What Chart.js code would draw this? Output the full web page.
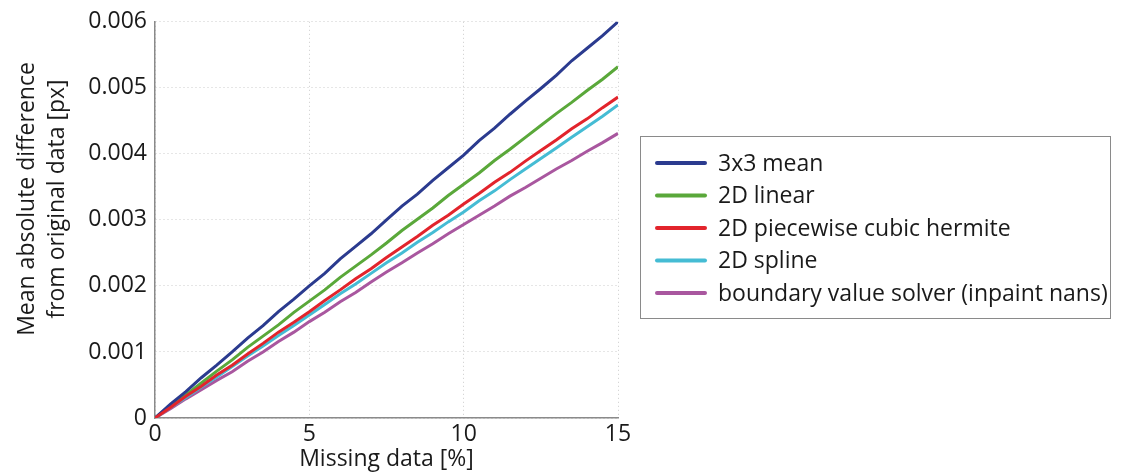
<!DOCTYPE html>
<html>
<head>
<meta charset="utf-8">
<script src="https://cdn.jsdelivr.net/npm/chart.js@4/dist/chart.umd.min.js"></script>
<style>
  html, body { margin: 0; padding: 0; background: #fff; }
  #wrap { width: 1123px; height: 475px; }
</style>
</head>
<body>
<div id="wrap"><canvas id="missing-chart" width="1123" height="475"></canvas></div>
<script>
const missingPct = [0, 0.5, 1, 1.5, 2, 2.5, 3, 3.5, 4, 4.5, 5, 5.5, 6, 6.5, 7, 7.5, 8, 8.5, 9, 9.5, 10, 10.5, 11, 11.5, 12, 12.5, 13, 13.5, 14, 14.5, 15];

const mean3x3 = [0, 0.00021, 0.00040, 0.00061, 0.00080, 0.00100, 0.00121, 0.00140, 0.00161, 0.00180, 0.00200, 0.00219, 0.00241, 0.00260, 0.00279, 0.00300, 0.00321, 0.00339, 0.00360, 0.00379, 0.00398, 0.00420, 0.00439, 0.00460, 0.00480, 0.00499, 0.00519, 0.00541, 0.00560, 0.00579, 0.00600];
const linear2d = [0, 0.00018, 0.00035, 0.00053, 0.00071, 0.00088, 0.00107, 0.00124, 0.00141, 0.00160, 0.00177, 0.00194, 0.00213, 0.00230, 0.00247, 0.00265, 0.00284, 0.00301, 0.00318, 0.00337, 0.00354, 0.00371, 0.00390, 0.00407, 0.00425, 0.00443, 0.00461, 0.00478, 0.00496, 0.00513, 0.00532];
const hermite2d = [0, 0.00016, 0.00033, 0.00048, 0.00065, 0.00080, 0.00097, 0.00113, 0.00130, 0.00145, 0.00161, 0.00178, 0.00194, 0.00211, 0.00226, 0.00243, 0.00259, 0.00275, 0.00292, 0.00307, 0.00324, 0.00340, 0.00357, 0.00372, 0.00389, 0.00405, 0.00421, 0.00438, 0.00453, 0.00470, 0.00486];
const spline2d = [0, 0.00016, 0.00031, 0.00047, 0.00062, 0.00078, 0.00094, 0.00109, 0.00125, 0.00140, 0.00156, 0.00172, 0.00188, 0.00203, 0.00219, 0.00235, 0.00250, 0.00266, 0.00281, 0.00297, 0.00312, 0.00329, 0.00344, 0.00361, 0.00377, 0.00393, 0.00409, 0.00425, 0.00441, 0.00457, 0.00474];
const inpaintNans = [0, 0.00014, 0.00029, 0.00043, 0.00057, 0.00070, 0.00086, 0.00100, 0.00116, 0.00130, 0.00146, 0.00160, 0.00176, 0.00190, 0.00206, 0.00221, 0.00235, 0.00250, 0.00264, 0.00279, 0.00293, 0.00307, 0.00321, 0.00336, 0.00349, 0.00363, 0.00377, 0.00390, 0.00404, 0.00417, 0.00431];

const seriesNames = ['3x3 mean', '2D linear', '2D piecewise cubic hermite', '2D spline', 'boundary value solver (inpaint nans)'];
const seriesValues = [mean3x3, linear2d, hermite2d, spline2d, inpaintNans];
const seriesColors = ['#2b3b8f', '#5aa83a', '#e2242c', '#45bcd4', '#a9579f'];
const seriesOrder = [2, 3, 0, 4, 5];

const xTicks = [0, 5, 10, 15];
const yTicks = [0, 0.001, 0.002, 0.003, 0.004, 0.005, 0.006];
const yTitle = ['Mean absolute difference', 'from original data [px]'];

const FONT = "'Open Sans', 'Noto Sans', sans-serif";

function toPoints(values) {
  return values.map((v, i) => ({ x: missingPct[i], y: v }));
}

// y title sits a bit above the plot centre, so it is drawn by hand
const sideTitle = {
  id: 'sideTitle',
  afterDraw(chart) {
    const ctx = chart.ctx;
    ctx.save();
    ctx.translate(0, 199);
    ctx.rotate(-Math.PI / 2);
    ctx.font = '23px ' + FONT;
    ctx.fillStyle = '#1a1a1a';
    ctx.textAlign = 'center';
    ctx.textBaseline = 'middle';
    yTitle.forEach((line, i) => ctx.fillText(line, 0, 27 + i * 30));
    ctx.restore();
  }
};

// legend drawn in its own box to the right of the plot
const boxLegend = {
  id: 'boxLegend',
  afterDraw(chart) {
    const ctx = chart.ctx;
    const box = { left: 640, top: 136, right: 1110, bottom: 318 };
    ctx.save();
    ctx.strokeStyle = '#8a8a8a';
    ctx.lineWidth = 1;
    ctx.strokeRect(box.left + 0.5, box.top + 0.5, box.right - box.left, box.bottom - box.top);
    ctx.font = '23px ' + FONT;
    ctx.textBaseline = 'middle';
    ctx.lineCap = 'round';
    chart.data.datasets.forEach((ds, i) => {
      const y = 163 + i * 32.5;
      ctx.strokeStyle = ds.borderColor;
      ctx.lineWidth = 4;
      ctx.beginPath();
      ctx.moveTo(657, y);
      ctx.lineTo(705, y);
      ctx.stroke();
      ctx.fillStyle = '#1a1a1a';
      ctx.fillText(ds.label, 718, y + 1);
    });
    ctx.restore();
  }
};

const ctx = document.getElementById('missing-chart').getContext('2d');
window.myChart = new Chart(ctx, {
  type: 'line',
  data: {
    datasets: seriesNames.map((name, i) => ({
      label: name,
      data: toPoints(seriesValues[i]),
      borderColor: seriesColors[i],
      backgroundColor: seriesColors[i],
      borderWidth: 3,
      pointRadius: 0,
      tension: 0,
      order: seriesOrder[i]
    }))
  },
  options: {
    responsive: false,
    animation: false,
    layout: {
      padding: { left: 0, top: 19, right: 505, bottom: 0 }
    },
    scales: {
      x: {
        type: 'linear',
        min: 0,
        max: 15,
        afterBuildTicks: axis => { axis.ticks = xTicks.map(v => ({ value: v })); },
        afterFit: axis => { axis.height = 57; },
        grid: { color: '#cccccc', lineWidth: 1, drawTicks: false },
        border: { color: '#8a8a8a', width: 1.5, dash: [1, 3] },
        ticks: {
          color: '#1a1a1a',
          padding: 3,
          maxRotation: 0,
          font: { family: FONT, size: 23 }
        },
        title: {
          display: true,
          text: 'Missing data [%]',
          color: '#1a1a1a',
          padding: { top: 0, bottom: 2 },
          font: { family: FONT, size: 23 }
        }
      },
      y: {
        min: 0,
        max: 0.006,
        afterBuildTicks: axis => { axis.ticks = yTicks.map(v => ({ value: v })); },
        afterFit: axis => { axis.width = 155; },
        grid: { color: '#cccccc', lineWidth: 1, drawTicks: false },
        border: { color: '#8a8a8a', width: 1.5, dash: [1, 3] },
        ticks: {
          color: '#1a1a1a',
          padding: 8,
          font: { family: FONT, size: 23 },
          callback: v => v === 0 ? '0' : v.toFixed(3)
        }
      }
    },
    plugins: {
      legend: { display: false },
      tooltip: { enabled: false }
    }
  },
  plugins: [sideTitle, boxLegend]
});
</script>
</body>
</html>
